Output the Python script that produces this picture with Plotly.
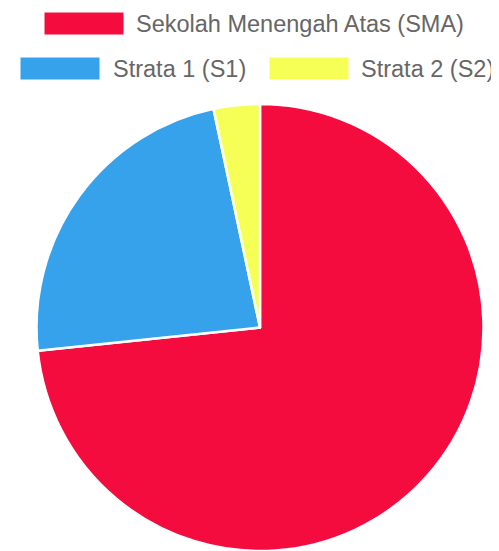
import plotly.graph_objects as go

labels = ["Sekolah Menengah Atas (SMA)", "Strata 1 (S1)", "Strata 2 (S2)"]
values = [22, 7, 1]
colors = ["#F50C3F", "#36A2EB", "#F5FF55"]

# page has an 8px body margin, so the figure is 8px smaller and coordinates shifted
OFF = 8
W, H = 499 - OFF, 551 - OFF


def px(x):
    return (x - OFF) / W


def py(y):
    return 1 - (y - OFF) / H


fig = go.Figure(go.Pie(
    labels=labels, values=values, sort=False, direction="clockwise", rotation=0,
    marker=dict(colors=colors, line=dict(color="#ffffff", width=2.5)),
    textinfo="none", hoverinfo="label+value", showlegend=False,
    domain=dict(x=[px(35), px(485)], y=[max(0, py(551)), py(104)]),
))

legend_items = [
    (44, 12, 135, 0),
    (20, 57, 112, 1),
    (269, 57, 360, 2),
]
shapes = []
annotations = []
for bx, by, tx, i in legend_items:
    shapes.append(dict(type="rect", xref="paper", yref="paper",
                       x0=px(bx), x1=px(bx + 80), y0=py(by), y1=py(by + 23),
                       fillcolor=colors[i], line=dict(color="#ffffff", width=1)))
    annotations.append(dict(xref="paper", yref="paper", x=px(tx), y=py(by + 12),
                            xanchor="left", yanchor="middle", showarrow=False,
                            text=labels[i], borderpad=0,
                            font=dict(family="Liberation Sans, Arial, sans-serif", size=23.5, color="#666666")))

fig.update_layout(
    width=W, height=H, margin=dict(l=0, r=0, t=0, b=0),
    paper_bgcolor="#ffffff", plot_bgcolor="#ffffff",
    shapes=shapes, annotations=annotations,
)
fig.write_html("out.html")
